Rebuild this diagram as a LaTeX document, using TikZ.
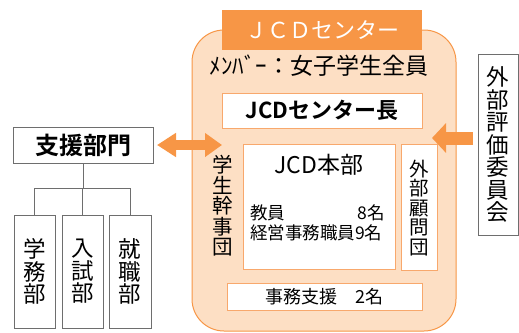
\documentclass[tikz,border=0pt]{standalone}
\usepackage{fontspec}
\setmainfont{Noto Sans CJK JP}[BoldFont={Noto Sans CJK JP Bold}]
\usetikzlibrary{arrows.meta}
\definecolor{jorange}{HTML}{F79646}
\definecolor{jfill}{HTML}{FDDFC4}
\definecolor{jline}{HTML}{F8A86C}
\definecolor{gline}{HTML}{6E6E6E}
\newcommand\fsz[1]{\fontsize{#1}{#1}\selectfont}
\begin{document}
\begin{tikzpicture}[x=1pt,y=-1pt,
  panel/.style={draw=jorange, fill=jfill, line width=1pt, rounded corners=32pt, inner sep=0pt},
  tab/.style={fill=jorange, inner sep=0pt, text=white},
  whitebox/.style={draw=jline, fill=white, line width=0.8pt, inner sep=0pt},
  graybox/.style={draw=gline, fill=white, line width=0.7pt, inner sep=0pt},
  vtext/.style={align=center, inner sep=0pt},
  tree/.style={draw=gline, line width=0.7pt},
  bigarrow/.style={draw=jorange}
]
\useasboundingbox (0,0) rectangle (519,332);
% main panel
\node[panel, minimum width=264pt, minimum height=301pt] (panel) at (324,180.5) {};
\node[tab, minimum width=200pt, minimum height=40pt, font=\fsz{22}] (tab) at (322,30) {ＪＣＤセンター};
\node[inner sep=0pt, font=\fsz{23}] (member) at (319,66) {ﾒﾝﾊﾞｰ：女子学生全員};
\node[whitebox, minimum width=200pt, minimum height=35pt, font=\bfseries\fsz{22}] (head) at (322,110.5) {JCDセンター長};
\node[whitebox, minimum width=152pt, minimum height=125pt] (honbu) at (319,206.5) {};
\node[inner sep=0pt, font=\fsz{23}] (honbut) at (319,165) {JCD本部};
\node[inner sep=0pt, anchor=west, font=\fsz{17.5}] (kyoin) at (250,213) {教員};
\node[inner sep=0pt, anchor=east, font=\fsz{17.5}] (kyoinn) at (385,213) {8名};
\node[inner sep=0pt, anchor=west, font=\fsz{17.5}] (keiei) at (250,233) {経営事務職員9名};
\node[whitebox, minimum width=36pt, minimum height=126pt] (komon) at (419,207) {};
\node[vtext, font=\fsz{19.5}] (komont) at (419,208) {外\\部\\顧\\問\\団};
\node[vtext, font=\fsz{20.5}] (kanji) at (223,206) {学\\生\\幹\\事\\団};
\node[whitebox, minimum width=195pt, minimum height=27pt, font=\fsz{18}] (jimu) at (324.5,296.5) {事務支援　2名};
% left side
\node[graybox, minimum width=140pt, minimum height=36pt, font=\bfseries\fsz{24}] (shien) at (83,145) {支援部門};
\node[graybox, minimum width=41pt, minimum height=113pt, font=\fsz{22.5}, align=center] (gakumu) at (34.5,271.5) {学\\務\\部};
\node[graybox, minimum width=41pt, minimum height=113pt, font=\fsz{22.5}, align=center] (nyushi) at (82.5,271.5) {入\\試\\部};
\node[graybox, minimum width=42pt, minimum height=113pt, font=\fsz{22.5}, align=center] (shushoku) at (130,271.5) {就\\職\\部};
\draw[tree] (shien.south) -- ++(0,25) coordinate (j);
\draw[tree] (gakumu.north) |- (j) -| (shushoku.north);
\draw[tree] (nyushi.north) -- (nyushi.north |- j);
% right side
\node[graybox, minimum width=40pt, minimum height=181pt, font=\fsz{22.5}, align=center] (gaibu) at (498,144.5) {外\\部\\評\\価\\委\\員\\会};
% arrows
\coordinate (a1) at (157,145);
\coordinate (a2) at (222,145);
\draw[bigarrow, line width=10pt, {Triangle[length=19pt,width=23pt]}-{Triangle[length=17pt,width=23pt]}] (a1) -- (a2);
\coordinate (b1) at (473,138);
\coordinate (b2) at (432,138);
\draw[bigarrow, line width=13pt, -{Triangle[length=14pt,width=29pt]}] (b1) -- (b2);
\end{tikzpicture}
\end{document}
